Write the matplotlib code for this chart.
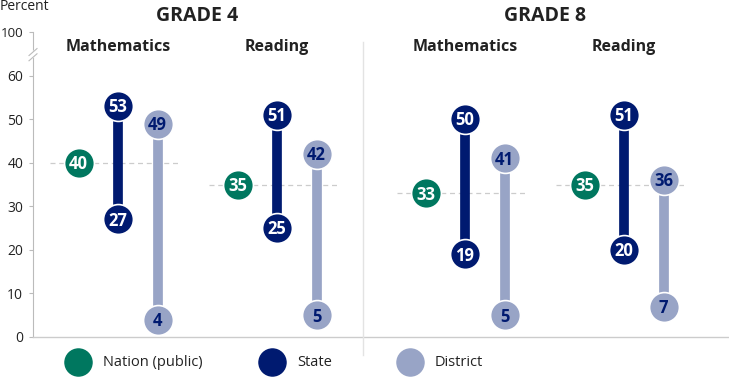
import matplotlib
matplotlib.use("Agg")
import matplotlib.pyplot as plt
from matplotlib.lines import Line2D

plt.rcParams['font.family'] = ['Open Sans', 'DejaVu Sans']

grades = ["GRADE 4", "GRADE 8"]
subjects = ["Mathematics", "Reading", "Mathematics", "Reading"]
nation = [40, 35, 33, 35]
state_hi = [53, 51, 50, 51]
state_lo = [27, 25, 19, 20]
district_hi = [49, 42, 41, 36]
district_lo = [4, 5, 5, 7]
yticks = [0, 10, 20, 30, 40, 50, 60]
top_label = "100"
legend_labels = ["Nation (public)", "State", "District"]

C_NAT = "#00775f"
C_STA = "#001a70"
C_DIS = "#98a4c6"
GRID = "#cccccc"

W, H = 729, 384
fig = plt.figure(figsize=(W / 100, H / 100), dpi=100)
ax_l, ax_b, ax_t = 33, 337, 32
ax = fig.add_axes([ax_l / W, 1 - ax_b / H, (W - ax_l) / W, (ax_b - ax_t) / H])
ax.set_xlim(ax_l, W)
ax.set_ylim(0, 70)  # 70 on the axis stands for 100 (broken axis)

centers = [118, 277, 465, 624]
off = 39.5
MS = 21.5
for i, c in enumerate(centers):
    xn, xs, xd = c - off, c, c + off
    ax.plot([xn - 29, xd + 22], [nation[i]] * 2, ls=(0, (4, 3)), color=GRID, lw=0.9, zorder=1)
    ax.plot([xs, xs], [state_lo[i], state_hi[i]], color=C_STA, lw=7, solid_capstyle='butt', zorder=2)
    ax.plot([xd, xd], [district_lo[i], district_hi[i]], color=C_DIS, lw=7, solid_capstyle='butt', zorder=2)
    for x, v, col, tc in [(xn, nation[i], C_NAT, "white"),
                          (xs, state_hi[i], C_STA, "white"),
                          (xs, state_lo[i], C_STA, "white"),
                          (xd, district_hi[i], C_DIS, C_STA),
                          (xd, district_lo[i], C_DIS, C_STA)]:
        ax.plot([x], [v], 'o', ms=MS, color=col, mec="white", mew=1.2, zorder=3)
        ax.text(x, v - 0.3, str(v), ha='center', va='center', color=tc,
                fontsize=12, fontweight='bold', zorder=4)
    ax.text(c, 66.5, subjects[i], ha='center', va='center', fontsize=11.5,
            fontweight='bold', color="#222222")

for g, name in enumerate(grades):
    xc = (centers[2 * g] + centers[2 * g + 1]) / 2
    fig.text(xc / W, 1 - 16 / H, name, ha='center', va='center', fontsize=14,
             fontweight='bold', color="#222222")

# separator between grades
sep_x = (centers[1] + centers[2]) / 2 - 8
fig.add_artist(Line2D([sep_x / W] * 2, [1 - 42 / H, 1 - 355 / H], color="#e3e3e3", lw=1))

# axes styling
for s in ["top", "right"]:
    ax.spines[s].set_visible(False)
ax.spines["left"].set_color("#bbbbbb")
ax.spines["bottom"].set_color("#cccccc")
ax.spines["left"].set_linewidth(0.8)
ax.spines["bottom"].set_linewidth(1)
ax.set_xticks([])
ax.set_yticks(yticks + [70])
ax.set_yticklabels([str(t) for t in yticks] + [top_label])
ax.tick_params(axis='y', length=3, color="#bbbbbb", labelsize=10, labelcolor="#222222", pad=4)
ax.get_yticklabels()[-1].set_fontsize(9.6)

# break marks
ax.plot([ax_l - 4, ax_l + 4], [64.0, 65.6], color="white", lw=4, clip_on=False, zorder=5)
ax.plot([ax_l - 4, ax_l + 4], [63.4, 65.0], color="#bbbbbb", lw=0.8, clip_on=False, zorder=6)
ax.plot([ax_l - 4, ax_l + 4], [64.6, 66.2], color="#bbbbbb", lw=0.8, clip_on=False, zorder=6)

fig.text(0, 1 - 7 / H, "Percent", ha='left', va='center', fontsize=10, color="#222222")

# legend
leg_x = [78, 272, 410]
for x, lab, col in zip(leg_x, legend_labels, [C_NAT, C_STA, C_DIS]):
    fig.add_artist(Line2D([x / W], [1 - 362 / H], marker='o', ms=MS - 2, color=col, mec=col))
    fig.text((x + 25) / W, 1 - 362 / H, lab, ha='left', va='center', fontsize=10.5, color="#222222")

fig.savefig("out.png", dpi=100)
